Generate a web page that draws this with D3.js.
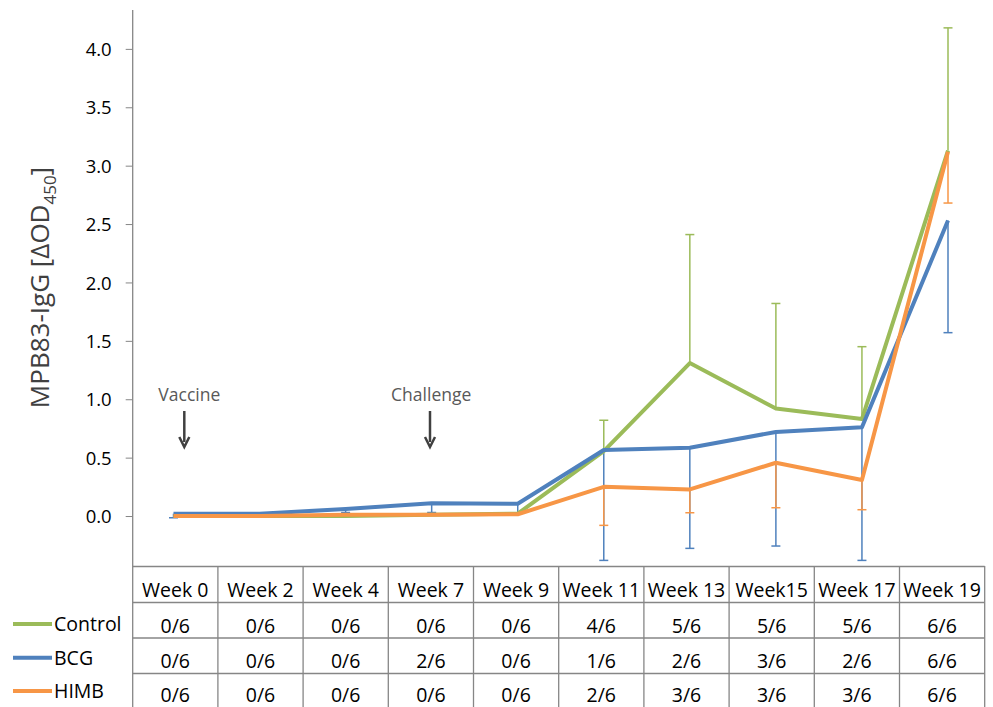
<!DOCTYPE html>
<html>
<head>
<meta charset="utf-8">
<script src="https://cdn.jsdelivr.net/npm/d3@7"></script>
<style>
  body { margin: 0; background: #fff; }
  svg { display: block; font-family: "Open Sans", "Noto Sans", sans-serif; }
</style>
</head>
<body>
<svg id="chart" width="993" height="707"></svg>
<script>
// Sampling weeks and group antibody readings (mean ΔOD450)
const weeks = ["Week 0", "Week 2", "Week 4", "Week 7", "Week 9", "Week 11", "Week 13", "Week15", "Week 17", "Week 19"];
const groups = ["Control", "BCG", "HIMB"];

const controlMean = [0.0, 0.0, 0.0, 0.01, 0.02, 0.556, 1.31, 0.92, 0.83, 3.13];
const bcgMean     = [0.02, 0.02, 0.06, 0.11, 0.105, 0.565, 0.585, 0.72, 0.76, 2.53];
const himbMean    = [0.0, 0.0, 0.01, 0.01, 0.015, 0.25, 0.228, 0.456, 0.308, 3.12];

// Error bars: Control drawn upward, BCG and HIMB drawn downward
const controlErrUp  = [0, 0, 0, 0, 0, 0.264, 1.10, 0.90, 0.62, 1.05];
const bcgErrDown    = [0.035, 0, 0.03, 0.08, 0.08, 0.945, 0.862, 0.977, 1.14, 0.96];
const himbErrDown   = [0, 0, 0, 0, 0, 0.33, 0.20, 0.385, 0.254, 0.44];

// Positive animals per group (table under the chart)
const controlPos = ["0/6", "0/6", "0/6", "0/6", "0/6", "4/6", "5/6", "5/6", "5/6", "6/6"];
const bcgPos     = ["0/6", "0/6", "0/6", "2/6", "0/6", "1/6", "2/6", "3/6", "2/6", "6/6"];
const himbPos    = ["0/6", "0/6", "0/6", "0/6", "0/6", "2/6", "3/6", "3/6", "3/6", "6/6"];

const yTicks = [0.0, 0.5, 1.0, 1.5, 2.0, 2.5, 3.0, 3.5, 4.0];

const colors = { Control: "#9BBB59", BCG: "#4F81BD", HIMB: "#F79646" };

const series = [
  { name: "Control", mean: controlMean, err: controlErrUp, dir: 1, pos: controlPos },
  { name: "BCG", mean: bcgMean, err: bcgErrDown, dir: -1, pos: bcgPos },
  { name: "HIMB", mean: himbMean, err: himbErrDown, dir: -1, pos: himbPos }
];

const svg = d3.select("#chart");
const axisX = 132.7, plotTop = 10, plotBottom = 566, tableRight = 984.7;

const y = d3.scaleLinear().domain([-0.428, 4.333]).range([plotBottom, plotTop]);
const xPt = d3.scalePoint().domain(weeks).range([173.5, 948]);
const xBand = d3.scaleBand().domain(weeks).range([axisX, tableRight]);

const gridColor = "#868686";

// Y axis
const yAxis = d3.axisLeft(y).tickValues(yTicks).tickFormat(d3.format(".1f")).tickSize(7).tickSizeOuter(0);
const gy = svg.append("g").attr("transform", `translate(${axisX},0)`).call(yAxis)
  .attr("font-family", "'Open Sans', sans-serif").attr("font-size", 18.5);
gy.select(".domain").remove();
gy.selectAll(".tick line").attr("stroke", gridColor).attr("stroke-width", 1);
gy.selectAll(".tick text").attr("x", -21).attr("dy", "0.36em").attr("fill", "#000");
svg.append("line").attr("x1", axisX).attr("x2", axisX).attr("y1", plotTop).attr("y2", 707)
  .attr("stroke", gridColor).attr("stroke-width", 1.3);

// Y axis title
const title = svg.append("text")
  .attr("transform", `translate(49,${(165 + 410) / 2}) rotate(-90)`)
  .attr("text-anchor", "middle").attr("font-size", 26).attr("fill", "#404040");
title.append("tspan").text("MPB83-IgG [ΔOD");
title.append("tspan").attr("font-size", 17).attr("dy", 7).text("450");
title.append("tspan").attr("dy", -7).text("]");

// Table grid
const rowEdges = [566.5, 602.5, 638, 673.5, 712];
rowEdges.slice(0, 4).forEach(yy => {
  svg.append("line").attr("x1", axisX).attr("x2", tableRight).attr("y1", yy).attr("y2", yy)
    .attr("stroke", gridColor).attr("stroke-width", 1.3);
});
weeks.forEach(w => {
  const xx = xBand(w) + xBand.bandwidth();
  svg.append("line").attr("x1", xx).attr("x2", xx).attr("y1", plotBottom).attr("y2", 707)
    .attr("stroke", gridColor).attr("stroke-width", 1.3);
});

// Header row
svg.append("g").selectAll("text").data(weeks).join("text")
  .attr("x", d => xBand(d) + xBand.bandwidth() / 2).attr("y", 597)
  .attr("text-anchor", "middle").attr("font-size", 19.5).attr("fill", "#000").text(d => d);

// Count rows and legend
const rowBase = [632.7, 668.3, 701.5];
const legendY = [624, 657.7, 691];
series.forEach((s, i) => {
  svg.append("g").selectAll("text").data(s.pos).join("text")
    .attr("x", (d, j) => xBand(weeks[j]) + xBand.bandwidth() / 2).attr("y", rowBase[i])
    .attr("text-anchor", "middle").attr("font-size", 19.5).attr("fill", "#000").text(d => d);
  const ly = legendY[i];
  svg.append("line").attr("x1", 13).attr("x2", 52).attr("y1", ly).attr("y2", ly)
    .attr("stroke", colors[s.name]).attr("stroke-width", 4);
  svg.append("text").attr("x", 54).attr("y", ly + 7).attr("font-size", 19.5).attr("fill", "#000").text(s.name);
});

// Annotations
const notes = [
  { label: "Vaccine", tx: 189.3, ax: 184.3 },
  { label: "Challenge", tx: 431.2, ax: 430 }
];
notes.forEach(n => {
  svg.append("text").attr("x", n.tx).attr("y", 401).attr("text-anchor", "middle")
    .attr("font-size", 17.5).attr("fill", "#595959").text(n.label);
  svg.append("line").attr("x1", n.ax).attr("x2", n.ax).attr("y1", 411).attr("y2", 442)
    .attr("stroke", "#404040").attr("stroke-width", 2.5);
  svg.append("path").attr("d", `M${n.ax - 5},${437} L${n.ax},${447} L${n.ax + 5},${437}`)
    .attr("fill", "none").attr("stroke", "#404040").attr("stroke-width", 2.5);
});

// Lines with error bars
const line = d3.line().x((d, i) => xPt(weeks[i])).y(d => y(d));
const cap = 4.5;
series.forEach(s => {
  const col = colors[s.name];
  const g = svg.append("g");
  s.mean.forEach((m, i) => {
    if (!s.err[i]) return;
    const xx = xPt(weeks[i]);
    const y0 = y(m), y1 = y(m + s.dir * s.err[i]);
    g.append("line").attr("x1", xx).attr("x2", xx).attr("y1", y0).attr("y2", y1)
      .attr("stroke", col).attr("stroke-width", 1.5);
    g.append("line").attr("x1", xx - cap).attr("x2", xx + cap).attr("y1", y1).attr("y2", y1)
      .attr("stroke", col).attr("stroke-width", 1.5);
  });
});
series.forEach(s => {
  svg.append("path").datum(s.mean).attr("d", line)
    .attr("fill", "none").attr("stroke", colors[s.name]).attr("stroke-width", 4)
    .attr("stroke-linejoin", "round");
});
</script>
</body>
</html>
